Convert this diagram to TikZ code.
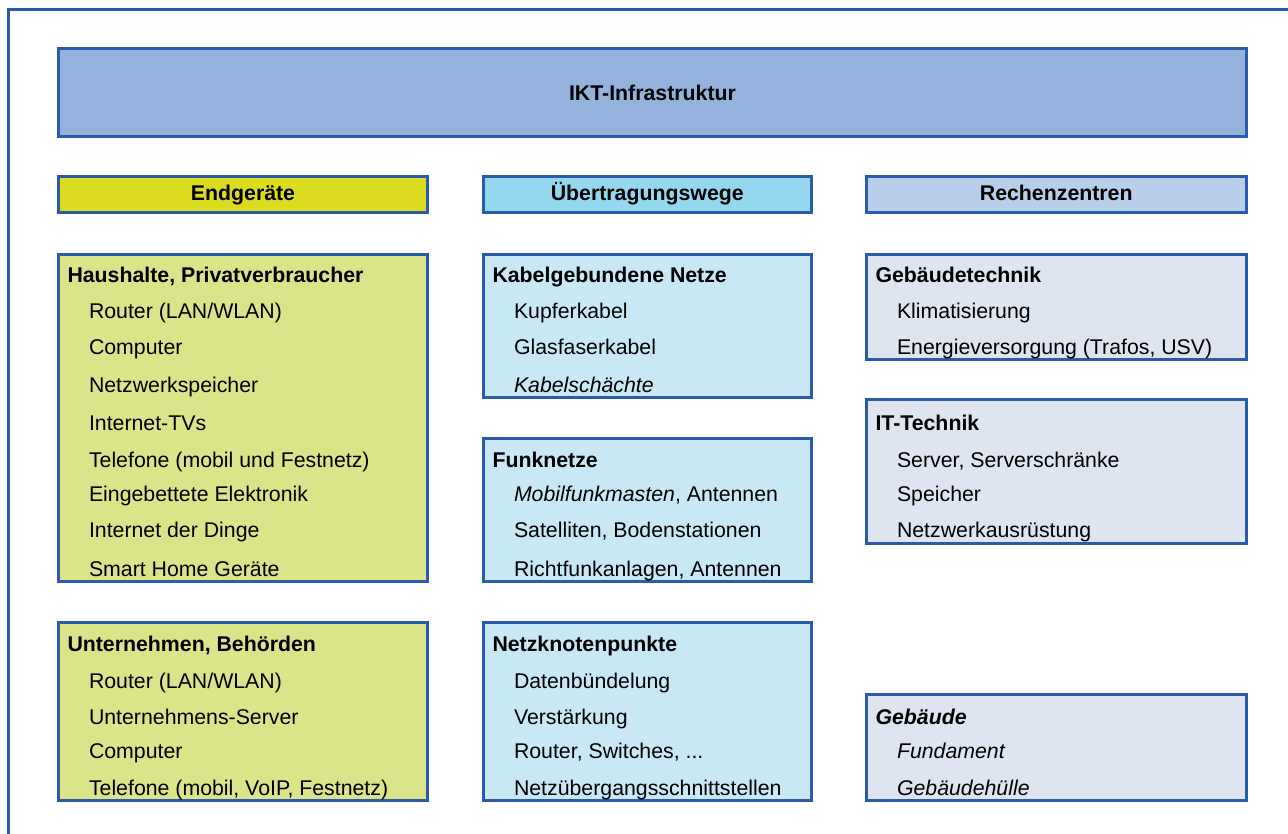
\documentclass[tikz,border=0pt]{standalone}
\usepackage{fontspec}
\setmainfont{Liberation Sans}
\usetikzlibrary{fit}

\definecolor{frameblue}{HTML}{2B5BAA}
\definecolor{iktfill}{HTML}{93B3DD}
\definecolor{endhead}{HTML}{DCDC1E}
\definecolor{endbox}{HTML}{DCE48A}
\definecolor{uebhead}{HTML}{94D8F0}
\definecolor{uebbox}{HTML}{C8E8F5}
\definecolor{rzhead}{HTML}{B8CFEB}
\definecolor{rzbox}{HTML}{DEE5F0}

\tikzset{
  panel/.style={draw=frameblue, line width=3pt, inner sep=0pt, outer sep=0pt},
  txt/.style={inner sep=0pt, outer sep=0pt, font=\fontsize{21.3}{25}\selectfont},
  group/.style={txt, anchor=base west, font=\fontsize{21.3}{25}\selectfont\bfseries},
  item/.style={txt, anchor=base west},
  title/.style={txt, anchor=base, font=\fontsize{21.3}{25}\selectfont\bfseries},
}

\begin{document}
\begin{tikzpicture}[x=1pt, y=-1pt]
\useasboundingbox (0,0) rectangle (1288,834);

% outer frame (runs off the page at right and bottom)
\draw[frameblue, line width=3pt] (8.5,850) -- (8.5,9.5) -- (1300,9.5);

% top banner
\node[panel, fill=iktfill, fit={(58.5,48.5) (1246.5,136.5)}] (ikt) {};
\node[title] (iktT) at (652.5,100.5) {IKT-Infrastruktur};

% column headers
\node[panel, fill=endhead, fit={(58.5,176.5) (427.5,213)}] (hEnd) {};
\node[title] (hEndT) at (243,201) {Endgeräte};
\node[panel, fill=uebhead, fit={(483.5,176.5) (811,213)}] (hUeb) {};
\node[title] (hUebT) at (647.25,201) {Übertragungswege};
\node[panel, fill=rzhead, fit={(866.5,176.5) (1246,213)}] (hRz) {};
\node[title] (hRzT) at (1056.25,201) {Rechenzentren};

% ---------- Endgeräte ----------
\node[panel, fill=endbox, fit={(58.5,254.5) (427.5,581.5)}] (L1) {};
\node[group] (L1h) at (67.5,282.3) {Haushalte, Privatverbraucher};
\node[item] (L1a) at (89,318.3) {Router (LAN/WLAN)};
\node[item] (L1b) at (89,354) {Computer};
\node[item] (L1c) at (89,392.5) {Netzwerkspeicher};
\node[item] (L1d) at (89,430.5) {Internet-TVs};
\node[item] (L1e) at (89,467.3) {Telefone (mobil und Festnetz)};
\node[item] (L1f) at (89,501.7) {Eingebettete Elektronik};
\node[item] (L1g) at (89,537.5) {Internet der Dinge};
\node[item] (L1i) at (89,576.5) {Smart Home Geräte};

\node[panel, fill=endbox, fit={(58.5,622) (427.5,800)}] (L2) {};
\node[group] (L2h) at (67.5,651.7) {Unternehmen, Behörden};
\node[item] (L2a) at (89,688.3) {Router (LAN/WLAN)};
\node[item] (L2b) at (89,724.3) {Unternehmens-Server};
\node[item] (L2c) at (89,758.3) {Computer};
\node[item] (L2d) at (89,795) {Telefone (mobil, VoIP, Festnetz)};

% ---------- Übertragungswege ----------
\node[panel, fill=uebbox, fit={(483.5,254.5) (811,397)}] (M1) {};
\node[group] (M1h) at (492.5,282.3) {Kabelgebundene Netze};
\node[item] (M1a) at (514,318.3) {Kupferkabel};
\node[item] (M1b) at (514,354) {Glasfaserkabel};
\node[item] (M1c) at (514,392.5) {\itshape Kabelschächte};

\node[panel, fill=uebbox, fit={(483.5,438.5) (811,581.5)}] (M2) {};
\node[group] (M2h) at (492.5,467.3) {Funknetze};
\node[item] (M2a) at (514,501.7) {\textit{Mobilfunkmasten}, Antennen};
\node[item] (M2b) at (514,537.5) {Satelliten, Bodenstationen};
\node[item] (M2c) at (514,576.5) {Richtfunkanlagen, Antennen};

\node[panel, fill=uebbox, fit={(483.5,622) (811,800)}] (M3) {};
\node[group] (M3h) at (492.5,651.7) {Netzknotenpunkte};
\node[item] (M3a) at (514,688.3) {Datenbündelung};
\node[item] (M3b) at (514,724.3) {Verstärkung};
\node[item] (M3c) at (514,758.3) {Router, Switches, ...};
\node[item] (M3d) at (514,795) {Netzübergangsschnittstellen};

% ---------- Rechenzentren ----------
\node[panel, fill=rzbox, fit={(866.5,254.5) (1246,359.5)}] (R1) {};
\node[group] (R1h) at (875.5,282.3) {Gebäudetechnik};
\node[item] (R1a) at (897,318.3) {Klimatisierung};
\node[item] (R1b) at (897,354) {Energieversorgung (Trafos, USV)};

\node[panel, fill=rzbox, fit={(866.5,399.5) (1246,543.5)}] (R2) {};
\node[group] (R2h) at (875.5,430.7) {IT-Technik};
\node[item] (R2a) at (897,467.3) {Server, Serverschränke};
\node[item] (R2b) at (897,501.7) {Speicher};
\node[item] (R2c) at (897,537) {Netzwerkausrüstung};

\node[panel, fill=rzbox, fit={(866.5,694.5) (1246,800.5)}] (R3) {};
\node[group, font=\fontsize{21.3}{25}\selectfont\bfseries\itshape] (R3h) at (875.5,724.3) {Gebäude};
\node[item] (R3a) at (897,758.3) {\itshape Fundament};
\node[item] (R3b) at (897,795) {\itshape Gebäudehülle};
\end{tikzpicture}
\end{document}
